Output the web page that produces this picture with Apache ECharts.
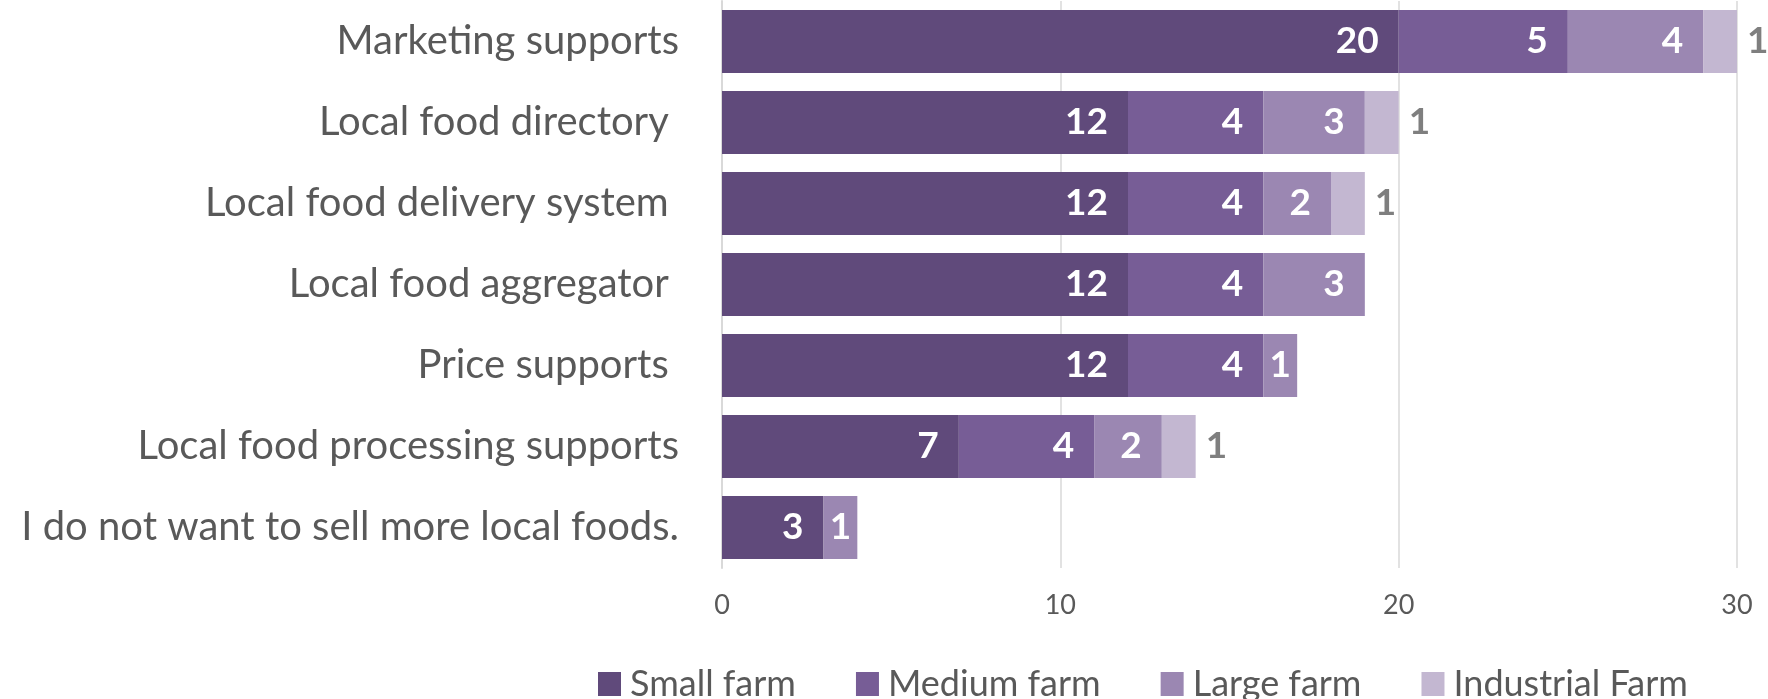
<!DOCTYPE html>
<html>
<head>
<meta charset="utf-8">
<script src="https://cdn.jsdelivr.net/npm/echarts@6/dist/echarts.min.js"></script>
<style>
html,body{margin:0;padding:0;background:#fff;}
#chart{width:1768px;height:699px;}
</style>
</head>
<body>
<div id="chart"></div>
<script>
const categories = [
  "Marketing supports",
  "Local food directory ",
  "Local food delivery system ",
  "Local food aggregator ",
  "Price supports ",
  "Local food processing supports",
  "I do not want to sell more local foods."
];
const seriesNames = ["Small farm", "Medium farm", "Large farm", "Industrial Farm"];
const smallFarm = [20, 12, 12, 12, 12, 7, 3];
const mediumFarm = [5, 4, 4, 4, 4, 4, null];
const largeFarm = [4, 3, 2, 3, 1, 2, 1];
const industrialFarm = [1, 1, 1, null, null, 1, null];
const xTicks = [0, 10, 20, 30];

const colors = ["#604a7b", "#775d96", "#9b87b2", "#c3b7d1"];
const fontFam = "Lato, 'Open Sans', sans-serif";

function mk(name, data, color, inside) {
  const items = data.map(v => {
    if (inside && v === 1) {
      return { value: v, label: { position: "inside" } };
    }
    return v;
  });
  return {
    name: name,
    type: "bar",
    stack: "total",
    data: items,
    barCategoryGap: "22.4%",
    itemStyle: { color: color },
    label: {
      show: true,
      position: inside ? "insideRight" : "right",
      distance: inside ? 20 : 10,
      color: inside ? "#ffffff" : "#7f7f7f",
      fontWeight: "bold",
      fontSize: 37,
      fontFamily: fontFam,
      formatter: p => (p.value == null ? "" : String(p.value))
    },
    emphasis: { disabled: true }
  };
}

const chart = echarts.init(document.getElementById("chart"));
chart.setOption({
  animation: false,
  color: colors,
  grid: { left: 722, right: 31, top: 1, bottom: 131, containLabel: false },
  legend: {
    top: 661,
    left: 593,
    itemWidth: 23,
    itemHeight: 24,
    itemGap: 60,
    icon: "rect",
    textStyle: { color: "#595959", fontSize: 36, fontFamily: fontFam, padding: [0, 0, 0, 4] },
    data: seriesNames
  },
  xAxis: {
    type: "value",
    min: xTicks[0],
    max: xTicks[xTicks.length - 1],
    interval: 10,
    axisLine: { show: false },
    axisTick: { show: false },
    splitLine: { lineStyle: { color: "#d9d9d9", width: 1.5 } },
    axisLabel: { color: "#595959", fontSize: 27, fontFamily: fontFam, margin: 24 }
  },
  yAxis: {
    type: "category",
    inverse: true,
    data: categories,
    axisLine: { show: true, lineStyle: { color: "#d9d9d9", width: 2 } },
    axisTick: { show: false },
    axisLabel: { color: "#595959", fontSize: 40, fontFamily: fontFam, margin: 43 }
  },
  series: [
    mk(seriesNames[0], smallFarm, colors[0], true),
    mk(seriesNames[1], mediumFarm, colors[1], true),
    mk(seriesNames[2], largeFarm, colors[2], true),
    mk(seriesNames[3], industrialFarm, colors[3], false)
  ]
});
</script>
</body>
</html>
